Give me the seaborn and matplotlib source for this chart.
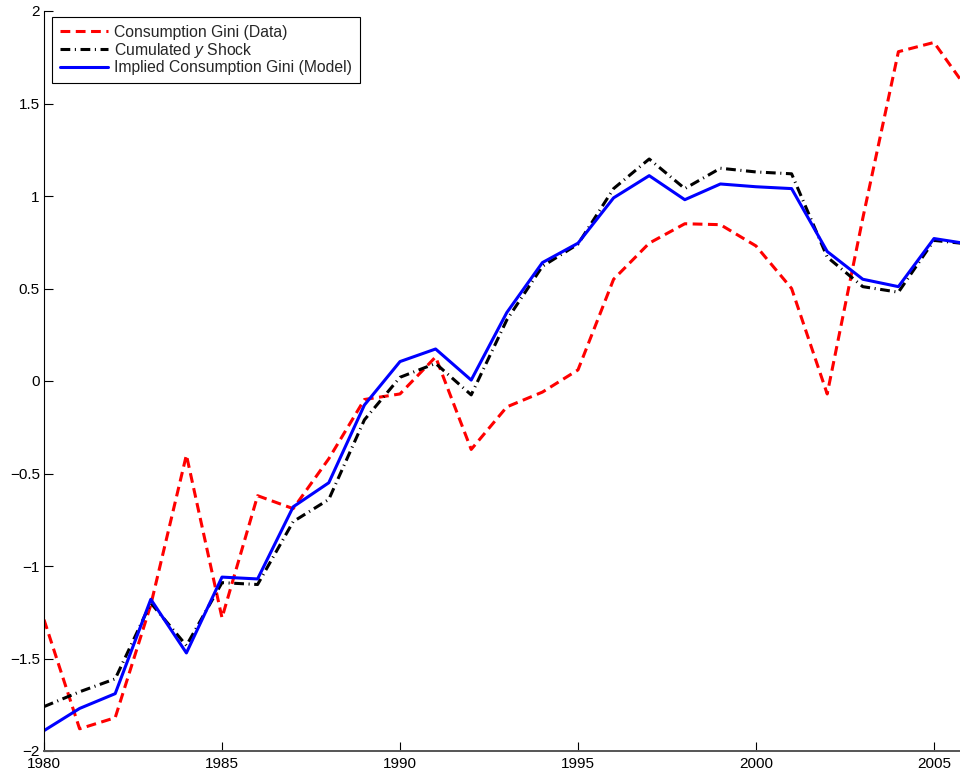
import numpy as np
import pandas as pd
import matplotlib
matplotlib.use("Agg")
import matplotlib.pyplot as plt
import seaborn as sns

years = list(range(1980, 2007))
gini_data = [-1.29, -1.88, -1.82, -1.21, -0.40, -1.28, -0.62, -0.69, -0.42, -0.10,
             -0.07, 0.13, -0.37, -0.14, -0.06, 0.06, 0.55, 0.745, 0.85, 0.845,
             0.73, 0.50, -0.07, 0.88, 1.78, 1.83, 1.56]
cum_y_shock = [-1.76, -1.68, -1.61, -1.20, -1.43, -1.09, -1.10, -0.76, -0.64, -0.21,
               0.02, 0.095, -0.075, 0.33, 0.62, 0.74, 1.04, 1.20, 1.04, 1.15,
               1.13, 1.12, 0.67, 0.51, 0.48, 0.76, 0.74]
gini_model = [-1.89, -1.77, -1.69, -1.18, -1.47, -1.06, -1.07, -0.68, -0.55, -0.13,
              0.105, 0.173, 0.005, 0.37, 0.64, 0.745, 0.99, 1.11, 0.98, 1.065,
              1.05, 1.04, 0.70, 0.55, 0.51, 0.77, 0.74]
labels = ["Consumption Gini (Data)", "Cumulated $y$ Shock",
          "Implied Consumption Gini (Model)"]
xticks = [1980, 1985, 1990, 1995, 2000, 2005]
yticks = [-2, -1.5, -1, -0.5, 0, 0.5, 1, 1.5, 2]
yticklabels = ["\u22122", "\u22121.5", "\u22121", "\u22120.5", "0", "0.5", "1", "1.5", "2"]

sns.set_style("ticks")
plt.rcParams["font.family"] = ["Liberation Sans", "DejaVu Sans"]
plt.rcParams["mathtext.fontset"] = "custom"
plt.rcParams["mathtext.it"] = "Liberation Sans:italic"
plt.rcParams["mathtext.rm"] = "Liberation Sans"

df = pd.DataFrame({"year": years, "data": gini_data, "shock": cum_y_shock, "model": gini_model})

fig = plt.figure(figsize=(9.6, 7.72), dpi=100)
ax = fig.add_axes([44 / 960, 21 / 772, (26 * 35.6) / 960, 740 / 772])

sns.lineplot(data=df, x="year", y="data", ax=ax, color="#ff0000", lw=2.2,
             linestyle=(0, (3.2, 1.8)), label=labels[0])
sns.lineplot(data=df, x="year", y="shock", ax=ax, color="black", lw=2.2,
             linestyle=(0, (3.2, 1.5, 0.35, 1.5)), label=labels[1])
sns.lineplot(data=df, x="year", y="model", ax=ax, color="#0000ff", lw=2.2,
             linestyle="-", label=labels[2])

ax.set_xlim(1980, 2006)
ax.set_ylim(-2, 2)
ax.set_xticks(xticks)
ax.set_yticks(yticks)
ax.set_yticklabels(yticklabels)
ax.set_xlabel("")
ax.set_ylabel("")
for s in ["top", "right"]:
    ax.spines[s].set_visible(False)
ax.spines["left"].set_color("black")
ax.spines["left"].set_linewidth(0.8)
ax.spines["bottom"].set_color("#555555")
ax.spines["bottom"].set_linewidth(1.4)
ax.tick_params(axis="both", direction="in", length=6.5, width=0.8, colors="black",
               labelsize=11)
ax.tick_params(axis="y", pad=3)
ax.tick_params(axis="x", pad=4.5)

leg = ax.legend(loc="upper left", bbox_to_anchor=(8 / 924, 1 - 6 / 740),
                frameon=True, fancybox=False, framealpha=1, edgecolor="black",
                fontsize=11.3, handlelength=3.05, handletextpad=0.4,
                borderpad=0.5, labelspacing=0.05, borderaxespad=0)
leg.get_frame().set_linewidth(0.8)

fig.savefig("out.png", dpi=100)
